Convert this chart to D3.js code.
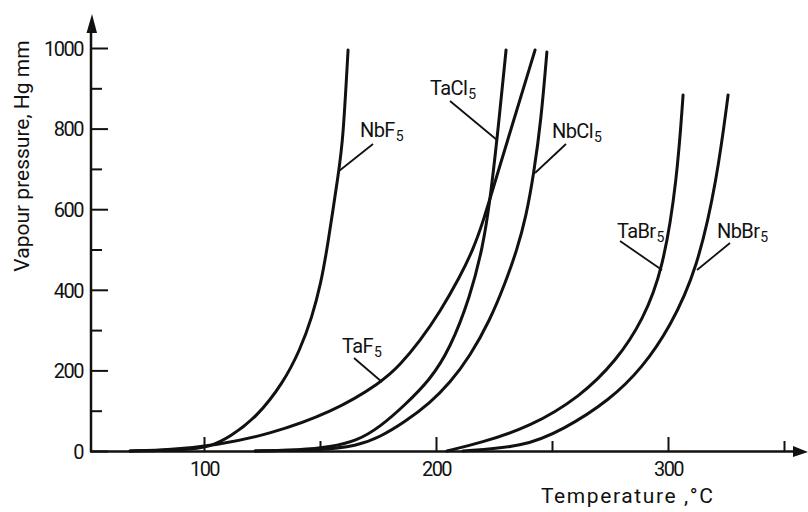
<!DOCTYPE html>
<html><head><meta charset="utf-8">
<script src="https://cdn.jsdelivr.net/npm/d3@7"></script>
<style>
body{margin:0;background:#fff;}
svg{display:block;}
text{font-family:Roboto, "DejaVu Sans", sans-serif;fill:#111;}
</style></head>
<body><svg id="c" width="808" height="512"></svg>
<script>
// ---- data (temperature °C, vapour pressure Hg mm) ----
const nbf5T = [68.1, 91.8, 102.6, 111.2, 122.8, 134.1, 141.4, 146.6, 150.4, 153.0, 158.2, 159.9, 162.1];
const nbf5P = [0, 2.5, 9.9, 34.7, 84.4, 168.7, 250.6, 332.5, 416.9, 498.8, 697.3, 771.7, 995];
const taf5T = [68.1, 85.3, 105.6, 127.2, 155.6, 176.7, 184.5, 193.1, 201.7, 210.3, 215.9, 220.3, 226.7, 242.7];
const taf5P = [0, 2.5, 14.9, 39.7, 96.8, 171.2, 213.4, 273, 344.9, 431.8, 498.8, 568.2, 692.3, 995];
const tacl5T = [122.0, 141.4, 154.3, 165.9, 175.9, 186.6, 197.4, 206.0, 214.7, 220.3, 223.3, 226.3, 230.2];
const tacl5P = [0, 2.5, 9.9, 24.8, 59.6, 114.1, 176.2, 253.1, 382.1, 508.7, 622.8, 771.7, 995];
const nbcl5T = [122.0, 150.0, 165.9, 175.9, 186.6, 197.4, 206.0, 214.7, 223.3, 229.7, 234.9, 238.8, 242.2, 245.3, 247.8];
const nbcl5P = [0, 2.5, 12.4, 34.7, 72, 119.1, 168.7, 235.7, 325, 414.4, 498.8, 580.6, 689.8, 821.3, 990.1];
const tabr5T = [204.7, 219.0, 240.5, 262.1, 278.0, 289.2, 297.8, 303.9, 306.5];
const tabr5P = [0, 19.9, 59.6, 134, 225.8, 325, 449.1, 672.5, 883.4];
const nbbr5T = [211.6, 237.5, 254.7, 275.0, 289.2, 300.9, 312.5, 321.1, 325.9];
const nbbr5P = [0, 9.9, 52.1, 126.6, 208.4, 307.7, 449.1, 672.5, 883.4];

const seriesNames = ["NbF", "TaF", "TaCl", "NbCl", "TaBr", "NbBr"];
const yMajor = [0, 200, 400, 600, 800, 1000];
const yMinor = [100, 300, 500, 700, 900];
const xMajor = [100, 200, 300];
const xMinor = [150, 250, 350];

// ---- scales ----
const x = d3.scaleLinear().domain([100, 300]).range([204, 668]);
const y = d3.scaleLinear().domain([0, 1000]).range([451, 48]);
const svg = d3.select("#c");
const X0 = 91, Y0 = y(0);

// axes lines + arrows
svg.append("line").attr("x1", X0).attr("x2", X0).attr("y1", Y0 + 1).attr("y2", 28)
  .attr("stroke", "#111").attr("stroke-width", 2.5);
svg.append("path").attr("d", `M${X0+1},14 L${X0-4.5},33 L${X0+6},33 Z`).attr("fill", "#111");
svg.append("line").attr("x1", X0 - 1).attr("x2", 798).attr("y1", Y0 + 0.5).attr("y2", Y0 + 0.5)
  .attr("stroke", "#111").attr("stroke-width", 2.5);
svg.append("path").attr("d", `M808,${Y0+1} L793,${Y0-5} L793,${Y0+6} Z`).attr("fill", "#111");

// y axis
const yAx = svg.append("g").attr("transform", `translate(${X0},0)`)
  .call(d3.axisLeft(y).tickValues(yMajor).tickSize(-17).tickPadding(8).tickFormat(d3.format("d")));
const yAxMin = svg.append("g").attr("transform", `translate(${X0},0)`)
  .call(d3.axisLeft(y).tickValues(yMinor).tickSize(-11).tickFormat(""));
// x axis
const xAx = svg.append("g").attr("transform", `translate(0,${Y0})`)
  .call(d3.axisBottom(x).tickValues(xMajor).tickSize(-14).tickPadding(11));
const xAxMin = svg.append("g").attr("transform", `translate(0,${Y0})`)
  .call(d3.axisBottom(x).tickValues(xMinor).tickSize(-10).tickFormat(""));
[yAx, yAxMin, xAx, xAxMin].forEach(g => {
  g.select(".domain").remove();
  g.selectAll(".tick line").attr("stroke", "#111").attr("stroke-width", 2);
  g.selectAll(".tick text").style("font-size", "20px").style("letter-spacing", "-1.5px")
    .style("font-family", "Roboto, sans-serif").attr("fill", "#111");
});
yAx.selectAll(".tick text").attr("dy", "0.36em");
xAx.selectAll(".tick text").attr("dy", "0.71em");

// axis titles
svg.append("text").attr("transform", "translate(29,156) rotate(-90)")
  .attr("text-anchor", "middle").style("font-size", "21px")
  .text("Vapour pressure, Hg mm");
svg.append("text").attr("x", 541).attr("y", 503).style("font-size", "21px")
  .style("letter-spacing", "1.6px").text("Temperature ,°C");

// curves
const line = d3.line().x(d => x(d[0])).y(d => y(d[1])).curve(d3.curveBasis);
const series = [
  [nbf5T, nbf5P], [taf5T, taf5P], [tacl5T, tacl5P],
  [nbcl5T, nbcl5P], [tabr5T, tabr5P], [nbbr5T, nbbr5P]
];
series.forEach(([t, p]) => {
  svg.append("path").datum(t.map((v, i) => [v, p[i]]))
    .attr("d", line).attr("fill", "none").attr("stroke", "#111")
    .attr("stroke-width", 3).attr("stroke-linecap", "round");
});

// labels with leaders
const labelPos = [
  [360, 137, 373, 144, 339, 171],
  [342, 353, 354, 358, 382, 382],
  [430, 95, 450, 101, 497, 140],
  [552, 138, 566, 144, 535, 173],
  [617, 238, 620, 241, 662, 270],
  [717, 238, 730, 243, 697, 270]
];
seriesNames.forEach((nm, i) => {
  const [tx, ty, a, b, c, d] = labelPos[i];
  const t = svg.append("text").attr("x", tx).attr("y", ty)
    .style("font-size", "20px").style("letter-spacing", "-0.6px");
  t.append("tspan").text(nm);
  t.append("tspan").attr("dx", 1).attr("dy", 4).style("font-size", "14px").text("5");
  svg.append("line").attr("x1", a).attr("y1", b).attr("x2", c).attr("y2", d)
    .attr("stroke", "#111").attr("stroke-width", 1.8);
});
</script></body></html>
